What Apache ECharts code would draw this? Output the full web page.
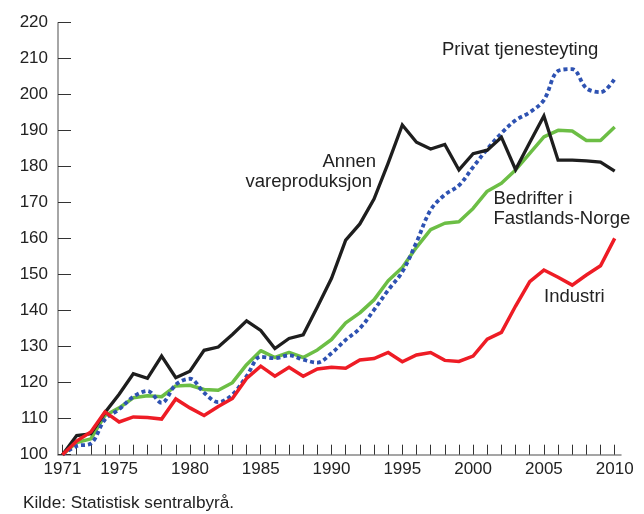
<!DOCTYPE html>
<html><head><meta charset="utf-8">
<script src="https://cdn.jsdelivr.net/npm/echarts@6/dist/echarts.min.js"></script>
<style>html,body{margin:0;padding:0;background:#fff}#c{width:644px;height:514px}</style>
</head><body><div id="c"></div>
<script>
const years = [1971,1972,1973,1974,1975,1976,1977,1978,1979,1980,1981,1982,1983,1984,1985,1986,1987,1988,1989,1990,
  1991,1992,1993,1994,1995,1996,1997,1998,1999,2000,2001,2002,2003,2004,2005,2006,2007,2008,2009,2010];
const xTickLabels = [1971,1975,1980,1985,1990,1995,2000,2005,2010];
const yTicks = [100,110,120,130,140,150,160,170,180,190,200,210,220];

const annenVareproduksjon = [100,105.3,105.8,111.7,116.8,122.5,121.2,127.4,121.4,123.2,129.0,129.9,133.4,137.2,134.5,129.5,132.3,133.3,141.0,149.0,
  159.6,164.1,171.0,181.0,191.6,186.8,184.9,186.2,179.1,183.6,184.6,188.2,179.2,186.7,194.1,181.8,181.8,181.6,181.3,178.8];
const bedrifterFastland = [100,103.4,104.4,110.9,113.0,115.8,116.4,116.1,119.1,119.3,118.1,117.9,120.0,125.0,128.9,127.0,128.4,127.0,129.1,132.0,
  136.6,139.4,143.0,148.3,152.0,157.6,162.5,164.3,164.7,168.4,173.2,175.4,179.1,183.7,188.3,190.1,189.9,187.3,187.3,191.0];
const privatTjenesteyting = [100,102.4,103.1,109.8,112.6,116.1,117.7,114.4,119.5,121.1,117.2,114.6,116.7,121.8,127.2,126.8,127.6,126.4,125.6,128.2,
  131.9,135.1,140.2,145.7,150.8,159.0,168.0,172.2,174.8,179.9,184.9,189.3,192.9,195.1,198.5,206.6,207.1,201.8,200.7,204.4];
const industri = [100,103.8,106.3,111.9,109.1,110.5,110.3,109.9,115.5,113.0,110.9,113.4,115.6,121.2,124.6,121.8,124.3,121.8,123.8,124.3,
  124.0,126.3,126.7,128.4,125.8,127.7,128.4,126.2,125.9,127.4,132.1,134.0,141.3,148.1,151.3,149.3,147.1,149.9,152.5,160.1];

const labels = {
  privat: 'Privat tjenesteyting',
  annen1: 'Annen', annen2: 'vareproduksjon',
  bedr1: 'Bedrifter i', bedr2: 'Fastlands-Norge',
  industri: 'Industri',
  source: 'Kilde: Statistisk sentralbyrå.'
};

const FONT = '"Liberation Sans", Arial, Helvetica, sans-serif';
const pairs = arr => years.map((y, i) => [y, arr[i]]);

const chart = echarts.init(document.getElementById('c'), null, {renderer: 'canvas'});
function txt(text, x, y, align, size) {
  return {type: 'text', x: x, y: y, z: 100,
    style: {text: text, fill: '#222', font: size + 'px ' + FONT, align: align, verticalAlign: 'middle'}};
}
chart.setOption({
  animation: false,
  backgroundColor: '#fff',
  grid: {left: 58, right: 23, top: 22.7, bottom: 59.3, containLabel: false},
  xAxis: {
    type: 'value', min: 1970.682, max: 2010.445,
    axisLine: {show: true, lineStyle: {color: '#888', width: 1.5}},
    axisTick: {show: true, inside: true, length: 10, customValues: years, lineStyle: {color: '#333', width: 1}},
    axisLabel: {customValues: xTickLabels, formatter: v => String(v), fontSize: 17, fontFamily: FONT, color: '#222', margin: 6},
    splitLine: {show: false}
  },
  yAxis: {
    type: 'value', min: 100, max: 220, interval: 10,
    axisLine: {show: true, lineStyle: {color: '#888', width: 1.5}},
    axisTick: {show: true, inside: true, length: 13, lineStyle: {color: '#333', width: 1}},
    axisLabel: {customValues: yTicks, fontSize: 17, fontFamily: FONT, color: '#222', margin: 10},
    splitLine: {show: false}
  },
  series: [
    {name: 'Bedrifter i Fastlands-Norge', type: 'line', data: pairs(bedrifterFastland), showSymbol: false, z: 2,
      lineStyle: {color: '#6cbe45', width: 3.5, join: 'round'}},
    {name: 'Privat tjenesteyting', type: 'line', data: pairs(privatTjenesteyting), showSymbol: false, smooth: 0.35, z: 3,
      lineStyle: {color: '#2e52b2', width: 3.8, type: [4, 3]}},
    {name: 'Annen vareproduksjon', type: 'line', data: pairs(annenVareproduksjon), showSymbol: false, z: 4,
      lineStyle: {color: '#1e1e1e', width: 3.3, join: 'miter'}},
    {name: 'Industri', type: 'line', data: pairs(industri), showSymbol: false, z: 5,
      lineStyle: {color: '#ee1c25', width: 3.5, join: 'miter'}}
  ],
  graphic: [
    txt(labels.privat, 442, 50, 'left', 18.5),
    txt(labels.annen1, 376, 162, 'right', 18.5),
    txt(labels.annen2, 372, 181.5, 'right', 18.5),
    txt(labels.bedr1, 493.5, 198.5, 'left', 18.5),
    txt(labels.bedr2, 493.5, 218.5, 'left', 18.5),
    txt(labels.industri, 544, 297, 'left', 18.5),
    txt(labels.source, 23, 503.5, 'left', 17.2)
  ]
});
</script></body></html>
